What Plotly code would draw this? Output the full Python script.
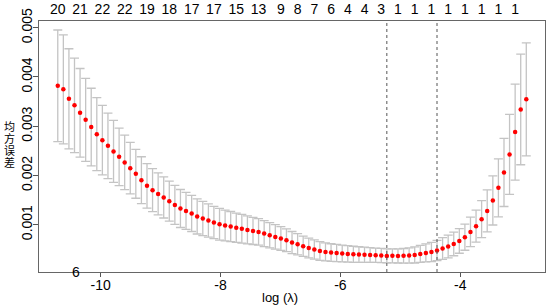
import plotly.graph_objects as go

log_lambda = [-10.714, -10.621, -10.528, -10.435, -10.342, -10.249, -10.156, -10.063, -9.970, -9.877,
              -9.784, -9.691, -9.598, -9.505, -9.412, -9.319, -9.226, -9.133, -9.040, -8.947,
              -8.854, -8.761, -8.668, -8.575, -8.481, -8.389, -8.295, -8.202, -8.110, -8.016,
              -7.923, -7.830, -7.737, -7.644, -7.551, -7.458, -7.365, -7.272, -7.179, -7.086,
              -6.993, -6.900, -6.807, -6.714, -6.621, -6.528, -6.435, -6.342, -6.249, -6.156,
              -6.063, -5.970, -5.877, -5.784, -5.691, -5.598, -5.505, -5.412, -5.319, -5.226,
              -5.133, -5.040, -4.947, -4.854, -4.761, -4.668, -4.575, -4.482, -4.389, -4.296,
              -4.203, -4.110, -4.017, -3.924, -3.831, -3.738, -3.645, -3.552, -3.458, -3.365,
              -3.272, -3.179, -3.086, -2.993, -2.900]

cv_mean = [0.003821, 0.003748, 0.003557, 0.003423, 0.003272, 0.003130, 0.002982, 0.002839, 0.002717, 0.002602,
           0.002488, 0.002378, 0.002264, 0.002148, 0.002033, 0.001904, 0.001789, 0.001701, 0.001626, 0.001553,
           0.001478, 0.001402, 0.001329, 0.001280, 0.001228, 0.001167, 0.001126, 0.001085, 0.001045, 0.001010,
           0.000984, 0.000963, 0.000939, 0.000919, 0.000894, 0.000874, 0.000854, 0.000821, 0.000787, 0.000752,
           0.000720, 0.000685, 0.000638, 0.000604, 0.000563, 0.000528, 0.000496, 0.000467, 0.000447, 0.000435,
           0.000427, 0.000415, 0.000407, 0.000400, 0.000394, 0.000390, 0.000386, 0.000380, 0.000376, 0.000366,
           0.000368, 0.000367, 0.000369, 0.000374, 0.000386, 0.000407, 0.000427, 0.000447, 0.000476, 0.000516,
           0.000557, 0.000610, 0.000671, 0.000746, 0.000854, 0.000970, 0.001112, 0.001280, 0.001492, 0.001748,
           0.002061, 0.002427, 0.002880, 0.003341, 0.003545]

cv_sd = [0.001132, 0.001106, 0.001016, 0.000961, 0.000900, 0.000843, 0.000789, 0.000742, 0.000707, 0.000665,
         0.000630, 0.000585, 0.000553, 0.000522, 0.000496, 0.000476, 0.000451, 0.000437, 0.000427, 0.000417,
         0.000407, 0.000396, 0.000386, 0.000376, 0.000366, 0.000356, 0.000346, 0.000337, 0.000329, 0.000321,
         0.000313, 0.000305, 0.000297, 0.000291, 0.000285, 0.000276, 0.000270, 0.000264, 0.000256, 0.000248,
         0.000240, 0.000232, 0.000224, 0.000215, 0.000207, 0.000201, 0.000195, 0.000189, 0.000183, 0.000179,
         0.000175, 0.000171, 0.000167, 0.000163, 0.000159, 0.000154, 0.000150, 0.000146, 0.000144, 0.000142,
         0.000142, 0.000144, 0.000148, 0.000154, 0.000163, 0.000173, 0.000183, 0.000195, 0.000207, 0.000220,
         0.000230, 0.000240, 0.000250, 0.000264, 0.000299, 0.000325, 0.000376, 0.000427, 0.000498, 0.000589,
         0.000691, 0.000813, 0.000976, 0.001124, 0.001148]

# number of non-zero coefficients shown on the top axis (index into log_lambda, label)
nz_index = [0, 4, 8, 12, 16, 20, 24, 28, 32, 36, 40, 43, 46, 49, 52, 55, 58, 61, 64, 67, 70, 73, 76, 79, 82]
nz_label = ["20", "21", "22", "22", "19", "18", "17", "17", "15", "13", "9", "8", "7", "6", "4", "4", "3",
            "1", "1", "1", "1", "1", "1", "1", "1"]

lambda_min_idx = 59
lambda_1se_idx = 68

x_ticks = [-10, -8, -6, -4]
x_ticktext = ["-10", "-8", "-6", "-4"]
y_ticks = [0.001, 0.002, 0.003, 0.004, 0.005]
y_ticktext = ["0.001", "0.002", "0.003", "0.004", "0.005"]
y_title_chars = ["均", "方", "误", "差"]
x_title = "log (λ)"

FONT = "Liberation Sans, Arial, sans-serif"

fig = go.Figure()
fig.add_trace(go.Scatter(
    x=log_lambda, y=cv_mean, mode="markers",
    marker=dict(color="red", size=4.5),
    error_y=dict(type="data", array=cv_sd, color="#c4c4c4", thickness=1.3, width=4.5),
    showlegend=False, hoverinfo="skip"))
# invisible trace to activate the top axis
fig.add_trace(go.Scatter(x=[log_lambda[0]], y=[cv_mean[0]], xaxis="x2", mode="markers",
                         marker=dict(opacity=0), showlegend=False, hoverinfo="skip"))

for idx in (lambda_min_idx, lambda_1se_idx):
    fig.add_shape(type="line", xref="x", yref="paper", x0=log_lambda[idx], x1=log_lambda[idx],
                  y0=0, y1=1, line=dict(color="#555555", width=1, dash="dot"))

xr = [-11.027, -2.588]
fig.update_layout(
    template="none",
    width=547, height=305,
    margin=dict(l=39, r=2, t=21, b=33, autoexpand=False),
    paper_bgcolor="white", plot_bgcolor="white",
    font=dict(family=FONT, size=14, color="black"),
    xaxis=dict(range=xr, tickvals=x_ticks, ticktext=x_ticktext, ticks="outside", ticklen=4,
               tickcolor="#555555", showgrid=False, zeroline=False, showline=True, linecolor="#666666",
               linewidth=1, mirror=True, automargin=False, ticklabelstandoff=-4),
    xaxis2=dict(range=xr, overlaying="x", side="top", anchor="y", automargin=False,
                tickvals=[log_lambda[i] for i in nz_index], ticktext=nz_label,
                ticks="", showgrid=False, zeroline=False, showline=False,
                tickfont=dict(size=14), ticklabelstandoff=3),
    yaxis=dict(range=[0.00004, 0.005136], tickvals=y_ticks, ticktext=y_ticktext, tickangle=-90,
               ticks="outside", ticklen=5, tickcolor="#555555", showgrid=False, zeroline=False,
               showline=True, linecolor="#666666", linewidth=1, mirror=True, automargin=False,
               ticklabelstandoff=-5),
)

for k, ch in enumerate(y_title_chars):
    fig.add_annotation(text=ch, xref="paper", yref="paper", x=0, y=1, xanchor="center",
                       yanchor="middle", xshift=-30, yshift=-(126 - 21) - 12 * k, showarrow=False,
                       font=dict(family="Noto Sans CJK SC", size=11, color="black"))

fig.add_annotation(text=x_title, xref="x", yref="paper", x=-7.0, y=0, xanchor="center",
                   yanchor="middle", yshift=-25, showarrow=False, font=dict(size=13, color="black"))
fig.add_annotation(text="6", xref="x", yref="paper", x=-10.405, y=0, xanchor="center",
                   yanchor="middle", showarrow=False, font=dict(size=14, color="black"))

fig.write_html("out.html", config={"displayModeBar": False},
               post_script="document.body.style.margin='0px';")
